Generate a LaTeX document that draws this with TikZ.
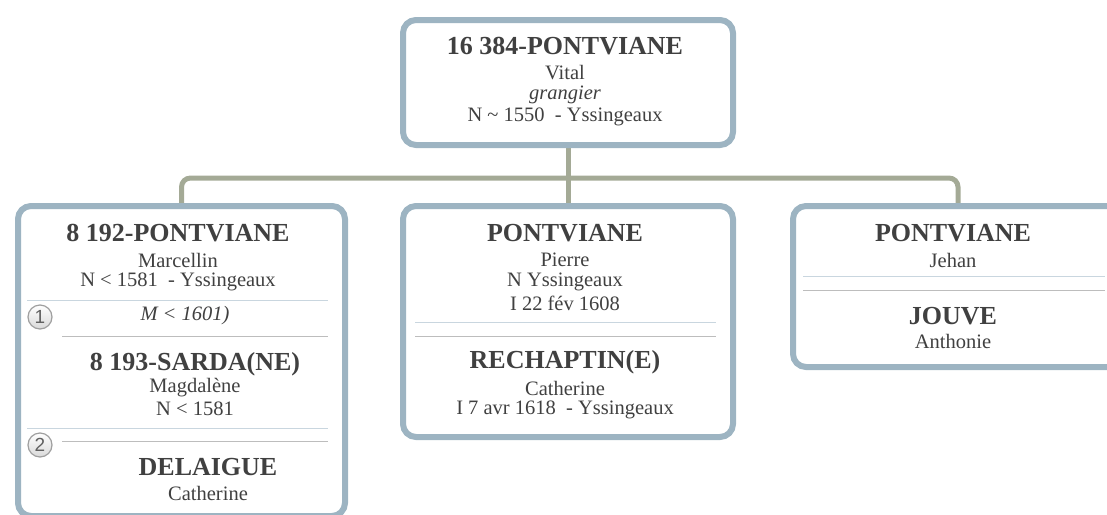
\documentclass[tikz,border=0pt]{standalone}
\usepackage{fontspec}
\setmainfont{Liberation Serif}
\setsansfont{Liberation Sans}
\usetikzlibrary{backgrounds}
\definecolor{boxc}{HTML}{9DB4C2}
\definecolor{linkc}{HTML}{A4AA96}
\definecolor{txt}{HTML}{404040}
\definecolor{sepb}{HTML}{C9D6DF}
\definecolor{sepg}{HTML}{BDBDBD}
\tikzset{
  famcard/.style={draw=boxc, line width=6pt, rounded corners=13pt, fill=white, inner sep=0pt},
  link/.style={draw=linkc, line width=5pt, rounded corners=9pt},
  nm/.style={text=txt, font=\bfseries\fontsize{26}{30}\selectfont, inner sep=0pt},
  tx/.style={text=txt, font=\fontsize{20.5}{24}\selectfont, inner sep=0pt},
  itx/.style={text=txt, font=\itshape\fontsize{20.5}{24}\selectfont, inner sep=0pt},
  sepa/.style={draw=sepb, line width=1pt},
  sepgr/.style={draw=sepg, line width=1pt},
  num/.style={circle, draw=gray!75, line width=1.2pt, top color=white, bottom color=gray!30, minimum size=24pt, inner sep=0pt, text=gray!75!black, font=\sffamily\fontsize{19}{19}\selectfont}
}
\begin{document}
\begin{tikzpicture}[x=1pt,y=-1pt]
\useasboundingbox (0,0) rectangle (1107,514);
% boxes
\node[famcard, minimum width=330pt, minimum height=125pt, anchor=north west] (top) at (400,17) {};
\node[famcard, minimum width=327pt, minimum height=310pt, anchor=north west] (left) at (15,203) {};
\node[famcard, minimum width=330pt, minimum height=231pt, anchor=north west] (mid) at (400,203) {};
\node[famcard, minimum width=330pt, minimum height=161pt, anchor=north west] (right) at (790,203) {};
% connectors
\begin{scope}[on background layer]
\draw[link] (top.south) -- ++(0,30) coordinate (jn);
\draw[link] (jn) -| (left.north);
\draw[link] (jn) -| (right.north);
\draw[link] (jn) -- (mid.north);
\end{scope}
% top box text
\node[nm] (t1) at (565,46) {16 384-PONTVIANE};
\node[tx] (t2) at (565,73) {Vital};
\node[itx] (t3) at (565,95) {grangier};
\node[tx] (t4) at (565,117) {N \char`~\ 1550 \ - Yssingeaux};
% left box
\node[nm] (l1) at (178,233) {8 192-PONTVIANE};
\node[tx] (l2) at (178,260) {Marcellin};
\node[tx] (l3) at (178,282) {N < 1581 \ - Yssingeaux};
\coordinate (ls1a) at (27,300); \coordinate (ls1b) at (328,300);
\draw[sepa] (ls1a) -- (ls1b);
\node[num] (c1) at (40,317) {1};
\node[itx] (l4) at (185,316) {M < 1601)};
\coordinate (ls2a) at (62,336); \coordinate (ls2b) at (328,336);
\draw[sepgr] (ls2a) -- (ls2b);
\node[nm] (l5) at (195,364) {8 193-SARDA(NE)};
\node[tx] (l6) at (195,388) {Magdalène};
\node[tx] (l7) at (195,409) {N < 1581};
\coordinate (ls3a) at (27,428); \coordinate (ls3b) at (328,428);
\draw[sepa] (ls3a) -- (ls3b);
\node[num] (c2) at (40,445) {2};
\coordinate (ls4a) at (62,441); \coordinate (ls4b) at (328,441);
\draw[sepgr] (ls4a) -- (ls4b);
\node[nm] (l8) at (208,467) {DELAIGUE};
\node[tx] (l9) at (208,493) {Catherine};
% middle box
\node[nm] (m1) at (565,233) {PONTVIANE};
\node[tx] (m2) at (565,260) {Pierre};
\node[tx] (m3) at (565,282) {N Yssingeaux};
\node[tx] (m4) at (565,303) {I 22 fév 1608};
\coordinate (ms1a) at (415,322); \coordinate (ms1b) at (716,322);
\draw[sepa] (ms1a) -- (ms1b);
\coordinate (ms2a) at (415,336); \coordinate (ms2b) at (716,336);
\draw[sepgr] (ms2a) -- (ms2b);
\node[nm] (m5) at (565,362) {RECHAPTIN(E)};
\node[tx] (m6) at (565,388) {Catherine};
\node[tx] (m7) at (565,410) {I 7 avr 1618 \ - Yssingeaux};
% right box
\node[nm] (r1) at (953,233) {PONTVIANE};
\node[tx] (r2) at (953,260) {Jehan};
\coordinate (rs1a) at (803,276); \coordinate (rs1b) at (1105,276);
\draw[sepa] (rs1a) -- (rs1b);
\coordinate (rs2a) at (803,290); \coordinate (rs2b) at (1105,290);
\draw[sepgr] (rs2a) -- (rs2b);
\node[nm] (r3) at (953,316) {JOUVE};
\node[tx] (r4) at (953,341) {Anthonie};
\end{tikzpicture}
\end{document}
